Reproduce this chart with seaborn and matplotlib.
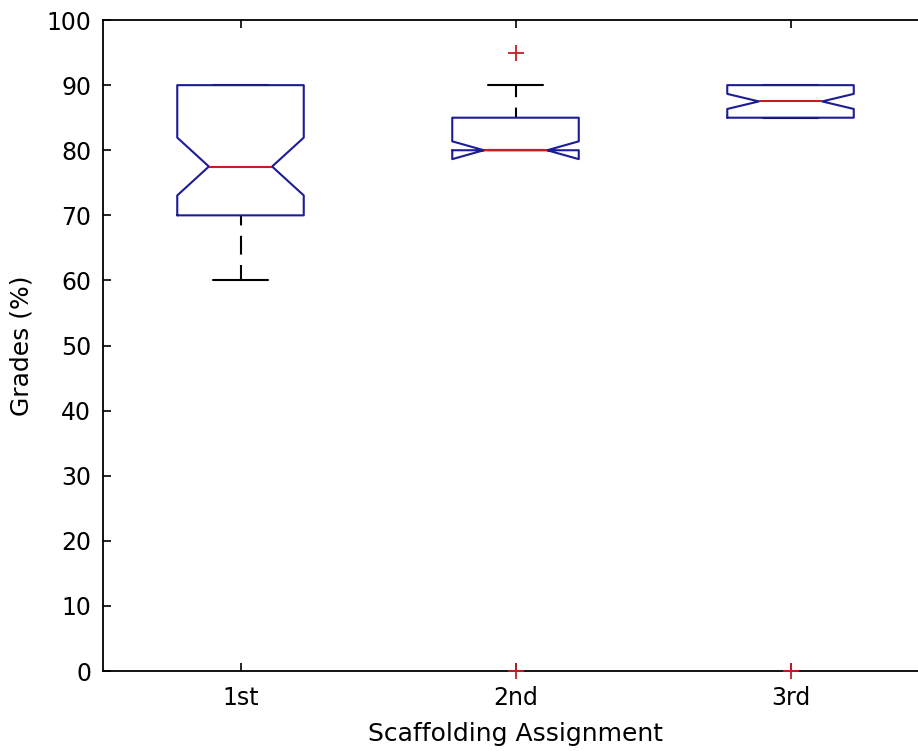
import pandas as pd
import matplotlib
matplotlib.use("Agg")
import matplotlib.pyplot as plt
import seaborn as sns

# Datos (notas por tarea)
assignments = ['1st', '2nd', '3rd']
grades_1st = [60, 62, 63, 65, 65, 67, 68, 68, 70, 70, 70, 70, 70, 70,
              70, 72, 72, 73, 73, 74, 75, 75, 75, 75, 75,
              80, 80, 82, 83, 85, 85, 85, 87, 88, 88, 90, 90,
              90, 90, 90, 90, 90, 90, 90, 90, 90, 90, 90, 90, 90]
grades_2nd = [0, 80, 80, 80, 80, 80, 80, 80, 80, 80, 80, 80, 80, 80, 80, 80, 80,
              81, 82, 82, 83, 84, 85, 85, 85,
              85, 86, 87, 88, 88, 90, 90, 95]
grades_3rd = [0] + [85] * 22 + [90] * 23
yticks = [0, 10, 20, 30, 40, 50, 60, 70, 80, 90, 100]

df = pd.DataFrame({
    'Assignment': ['1st'] * len(grades_1st) + ['2nd'] * len(grades_2nd) + ['3rd'] * len(grades_3rd),
    'Grade': grades_1st + grades_2nd + grades_3rd,
})

sns.set_style('ticks')
plt.rcParams['font.family'] = ['DejaVu Sans Condensed', 'DejaVu Sans']

blue = '#1c1c96'
red = '#c41e24'

fig = plt.figure(figsize=(9.18, 7.51), dpi=100)
ax = fig.add_axes([0.1122, 0.1065, 0.8987, 0.8668])

# Boxplot con muescas, estilo MATLAB
sns.boxplot(data=df, x='Assignment', y='Grade', order=assignments, ax=ax,
            notch=True, fill=False, width=0.46, whis=1.5, capwidths=0.2,
            boxprops=dict(color=blue, linewidth=1.5, zorder=3),
            medianprops=dict(color=red, linewidth=1.5, zorder=4),
            whiskerprops=dict(color='black', linewidth=1.5, linestyle=(4, (9, 5)), zorder=2),
            capprops=dict(color='black', linewidth=1.5, zorder=2),
            flierprops=dict(marker='+', markeredgecolor=red, markersize=11,
                            markeredgewidth=1.3, clip_on=False, zorder=5))

ax.set_xlim(-0.5, 2.5)
ax.set_ylim(0, 100)
ax.set_yticks(yticks)
ax.set_xlabel('Scaffolding Assignment', fontsize=18, labelpad=9, color='black')
ax.set_ylabel('Grades (%)', fontsize=18, labelpad=9, color='black')
ax.tick_params(direction='in', length=6, width=1.2, labelsize=17,
               top=True, right=True, colors='black')
ax.tick_params(axis='x', pad=10.5)
ax.tick_params(axis='y', pad=8.5)
for side in ['left', 'bottom', 'top', 'right']:
    ax.spines[side].set_visible(True)
    ax.spines[side].set_linewidth(1.3)
    ax.spines[side].set_color('black')
ax.grid(False)

fig.savefig('out.png', dpi=100)
